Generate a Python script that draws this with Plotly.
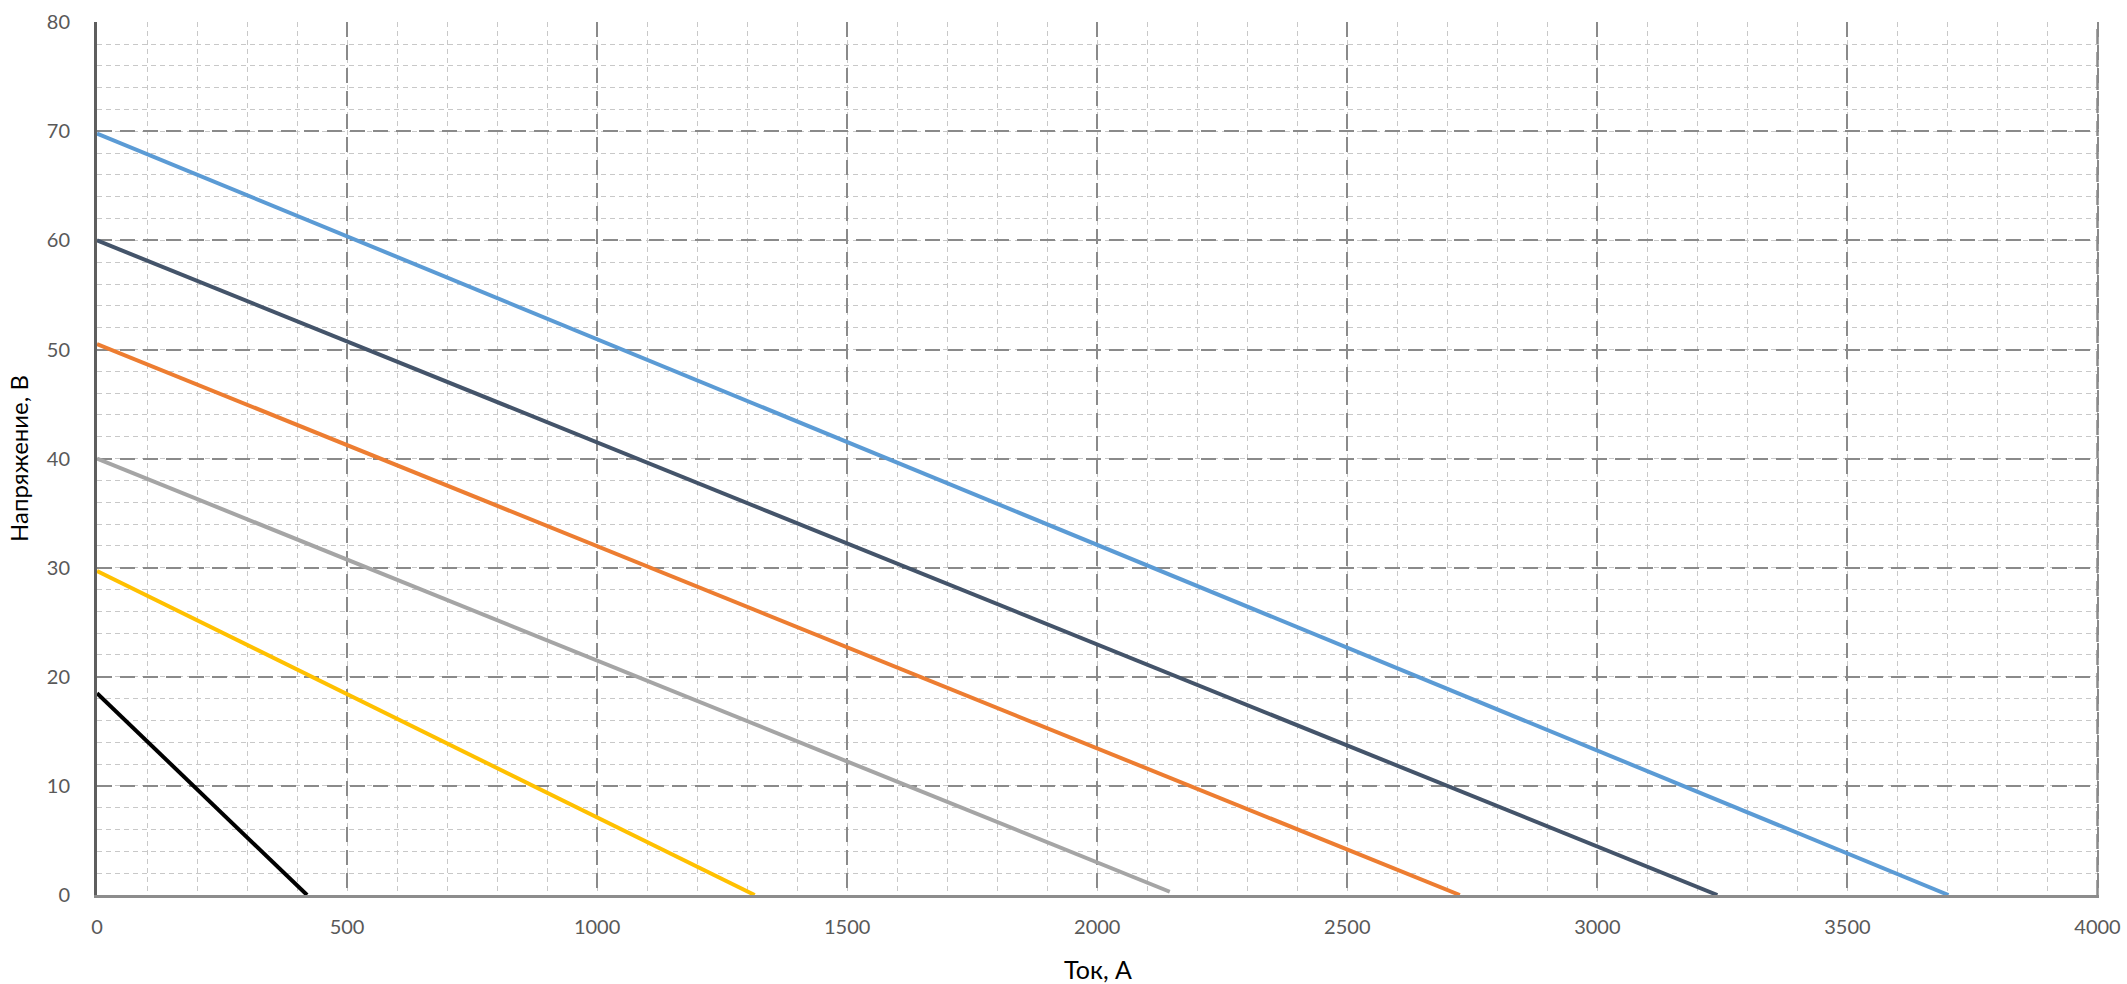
import plotly.graph_objects as go

# Data (current A, voltage V) — each characteristic is a straight line
series_names = ["18.5 В", "29.7 В", "40 В", "50.5 В", "60 В", "69.8 В"]
current_start = [0, 0, 0, 0, 0, 0]
current_end = [420, 1315, 2145, 2725, 3240, 3702]
voltage_start = [18.5, 29.7, 40.0, 50.5, 60.0, 69.8]
voltage_end = [0, 0, 0.3, 0, 0, 0]
colors = ["#000000", "#FFC000", "#A5A5A5", "#ED7D31", "#44546A", "#5B9BD5"]

x_ticks = [0, 500, 1000, 1500, 2000, 2500, 3000, 3500, 4000]
y_ticks = [0, 10, 20, 30, 40, 50, 60, 70, 80]

fig = go.Figure()
for name, xs, xe, ys, ye, c in zip(series_names, current_start, current_end,
                                   voltage_start, voltage_end, colors):
    fig.add_trace(go.Scatter(x=[xs, xe], y=[ys, ye], mode="lines", name=name,
                             line=dict(color=c, width=4), showlegend=False))

major_grid = dict(color="#8a8a8a", width=2, dash="15px,8px")

font_family = "Lato, 'Open Sans', sans-serif"
fig.update_layout(
    width=2127, height=984,
    margin=dict(l=97, r=28, t=22, b=89),
    plot_bgcolor="white", paper_bgcolor="white",
    font=dict(family=font_family),
)
fig.update_xaxes(
    range=[0, 4003], tickvals=x_ticks, ticktext=[str(v) for v in x_ticks],
    showgrid=True, gridcolor=major_grid["color"], gridwidth=2, griddash=major_grid["dash"],
    minor=dict(dtick=100, showgrid=True, gridcolor="#c8c8c8", gridwidth=1.3,
               griddash="5px,4px"),
    showline=True, linecolor="#8c8c8c", linewidth=3,
    zeroline=False, ticks="", ticklabelstandoff=12, automargin=False,
    tickfont=dict(size=20, color="#595959"),
    title=dict(text="Ток, А", font=dict(size=25, color="#000000"), standoff=27),
)
fig.update_yaxes(
    range=[0, 80.02], tickvals=y_ticks, ticktext=[str(v) for v in y_ticks],
    showgrid=True, gridcolor=major_grid["color"], gridwidth=2, griddash=major_grid["dash"],
    minor=dict(dtick=2, showgrid=True, gridcolor="#c8c8c8", gridwidth=1.3,
               griddash="5px,4px"),
    showline=True, linecolor="#5e5e5e", linewidth=3,
    zeroline=False, ticks="", ticklabelstandoff=20, automargin=False,
    tickfont=dict(size=20, color="#595959"),
    title=dict(text="Напряжение, В", font=dict(size=24, color="#000000"), standoff=12),
)
# closing major gridline at the last x tick (right edge of the plot area)
fig.add_shape(type="line", xref="x", yref="paper", x0=x_ticks[-1], x1=x_ticks[-1],
              y0=0, y1=1, line=dict(color="#8a8a8a", width=2.5, dash="15px,8px"),
              layer="above")

fig.write_html(
    "out.html",
    config={"displayModeBar": False},
    post_script="document.body.style.margin='0';document.body.style.overflow='hidden';",
)
